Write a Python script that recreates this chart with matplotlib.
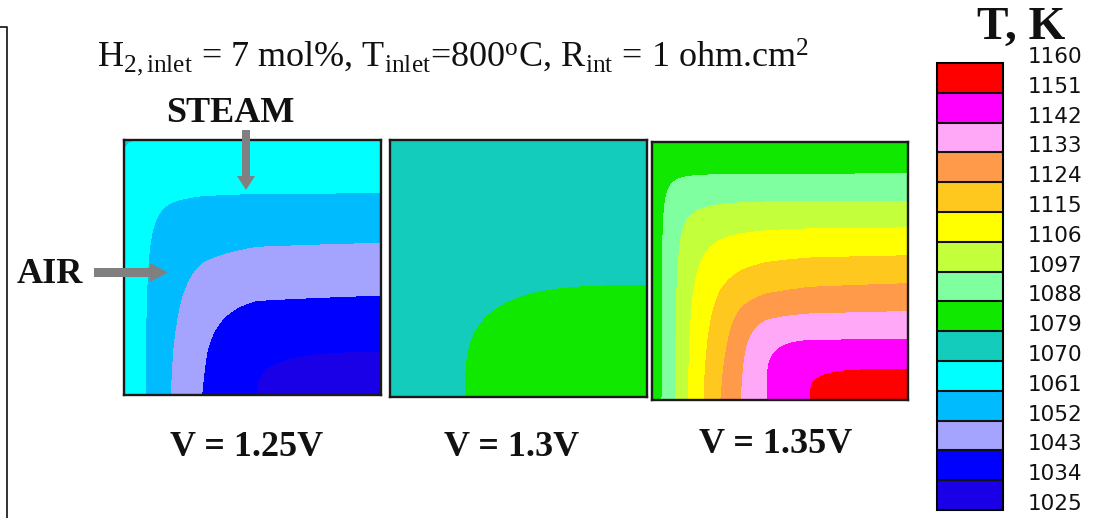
import numpy as np
import matplotlib
matplotlib.use("Agg")
import matplotlib.pyplot as plt
from matplotlib.colors import ListedColormap, BoundaryNorm
from matplotlib.patches import FancyArrow
from matplotlib.transforms import blended_transform_factory, ScaledTranslation

plt.rcParams['mathtext.fontset'] = 'custom'
plt.rcParams['mathtext.rm'] = 'Liberation Serif'
plt.rcParams['mathtext.it'] = 'Liberation Serif'

# temperature levels (K) and band colours, low -> high
levels = [1025, 1034, 1043, 1052, 1061, 1070, 1079, 1088, 1097, 1106, 1115, 1124, 1133, 1142, 1151, 1160]
band_colors = ['#1a00e6', '#0000ff', '#a4a4ff', '#00bcff', '#00ffff', '#14ccbc', '#10e800',
               '#80ffa0', '#c4ff3c', '#ffff00', '#ffc81e', '#ff9a4a', '#ffa8f8', '#ff00ff', '#ff0000']

t_inlet = 1073.0
voltages = ['V = 1.25V', 'V = 1.3V', 'V = 1.35V']

# temperature read along the right edge (pos = fraction from top, steam inlet side)
right_pos = [
    [0.0, 0.207, 0.401, 0.608, 0.83, 1.0],
    [0.0, 0.567, 1.0],
    [0.0, 0.124, 0.229, 0.333, 0.441, 0.549, 0.657, 0.767, 0.882, 1.0],
]
right_T = [
    [1069.8, 1061, 1052, 1043, 1034, 1029],
    [1075.5, 1079, 1082.5],
    [1080.2, 1088, 1097, 1106, 1115, 1124, 1133, 1142, 1151, 1158],
]
# temperature read along the bottom edge (pos = fraction from left, air inlet side)
bottom_pos = [
    [0.0, 0.082, 0.18, 0.302, 0.516, 1.0],
    [0.0, 0.294, 1.0],
    [0.0, 0.039, 0.092, 0.142, 0.203, 0.269, 0.348, 0.45, 0.619, 1.0],
]
bottom_T = [
    [1069.2, 1061, 1052, 1043, 1034, 1029],
    [1076, 1079, 1082.5],
    [1080.5, 1088, 1097, 1106, 1115, 1124, 1133, 1142, 1151, 1158],
]
# isotherm corner shape: soft near the inlet corner, boxy near the outlet corner
k_inlet = [2.0, 4.0, 2.5]
k_outlet = [3.0, 3.3, 4.0]
boxy_until = [0.5, 1.1, 0.5]

# panel rectangles in pixels (left, top, right, bottom)
panel_px = [(124, 140, 381, 395), (390, 140, 647, 397), (652, 142, 908, 400)]
label_xy = [(247, 456), (512, 456), (776, 453)]

W, H = 1095, 518
fig = plt.figure(figsize=(W / 100, H / 100), dpi=100)

cmap = ListedColormap(band_colors)
norm = BoundaryNorm(levels, cmap.N)

s = np.linspace(0, 1, 600)
for i in range(3):
    l, t, r, b = panel_px[i]
    ax = fig.add_axes([l / W, 1 - b / H, (r - l) / W, (b - t) / H])
    tc = right_T[i][-1]
    sgn = 1.0 if tc > t_inlet else -1.0
    tb = np.interp(s, bottom_pos[i], bottom_T[i])[None, :]
    tr = np.interp(s, right_pos[i], right_T[i])[:, None]

    # rise from the inlet temperature, combined softly (inlet side)
    P = (tb - t_inlet) / (tc - t_inlet)
    Q = (tr - t_inlet) / (tc - t_inlet)
    k1 = k_inlet[i]
    T1 = t_inlet + (tc - t_inlet) * (P ** -k1 + Q ** -k1 - 1) ** (-1 / k1)

    # distance from the outlet corner temperature, combined as a p-norm (outlet side)
    da = sgn * (tc - tb)
    db = sgn * (tc - tr)
    k2 = k_outlet[i]
    D = (da ** k2 + db ** k2) ** (1 / k2)
    T2 = tc - sgn * D

    rel = D / max(da.max(), db.max())
    w = np.clip((boxy_until[i] - rel) / 0.3, 0, 1)
    w = w * w * (3 - 2 * w)
    T = w * T2 + (1 - w) * T1
    T = np.clip(T, levels[0] + 0.01, levels[-1] - 0.01)

    cs = ax.contourf(s, s, T, levels=levels, cmap=cmap, norm=norm)
    ax.set_xlim(0, 1)
    ax.set_ylim(1, 0)
    ax.set_xticks([])
    ax.set_yticks([])
    for sp in ax.spines.values():
        sp.set_linewidth(1.7)
        sp.set_color('#1a1a1a')

# colour bar
cax = fig.add_axes([937 / W, 1 - 510 / H, 66 / W, 447 / H])
cb = fig.colorbar(cs, cax=cax, drawedges=True, ticks=[])
cax.minorticks_off()
cax.tick_params(which='both', length=0, labelright=False)
cb.outline.set_linewidth(1.5)
cb.dividers.set_linewidth(1.5)
cb.dividers.set_color('#111111')
trans = blended_transform_factory(cax.transAxes, cax.transData) + ScaledTranslation(0, 6 / 100, fig.dpi_scale_trans)
for lv in levels:
    cax.text(1.38, lv, str(lv), transform=trans, ha='left', va='center',
             fontsize=15.5, family='DejaVu Sans', color='#111111')

# overlay for annotations in pixel coordinates
ov = fig.add_axes([0, 0, 1, 1], zorder=10)
ov.set_xlim(0, W)
ov.set_ylim(H, 0)
ov.axis('off')
ov.patch.set_alpha(0)

ov.plot([0, 7, 7], [27, 27, H], color='#222222', lw=1.3)

ov.text(453, 67, r"H$_{\mathrm{2,inlet}}$ = 7 mol%, T$_{\mathrm{inlet}}$=800$^{\mathrm{o}}$C, R$_{\mathrm{int}}$ = 1 ohm.cm$^{\mathrm{2}}$",
        ha='center', va='baseline', fontsize=26, family='Liberation Serif', color='#111111')
ov.text(230, 122, 'STEAM', ha='center', va='baseline', fontsize=26, family='Liberation Serif',
        weight='bold', color='#111111')
ov.text(50, 283, 'AIR', ha='center', va='baseline', fontsize=26, family='Liberation Serif',
        weight='bold', color='#111111')
ov.text(1021, 39, 'T, K', ha='center', va='baseline', fontsize=34, family='Liberation Serif',
        weight='bold', color='#111111')
for (x, y), lab in zip(label_xy, voltages):
    ov.text(x, y, lab, ha='center', va='baseline', fontsize=26, family='Liberation Serif',
            weight='bold', color='#111111')

ov.add_patch(FancyArrow(246, 130, 0, 60, width=8, head_width=18, head_length=14,
                        length_includes_head=True, color='#808080', lw=0))
ov.add_patch(FancyArrow(94, 272.5, 74, 0, width=9, head_width=19, head_length=18,
                        length_includes_head=True, color='#808080', lw=0))

fig.savefig('out.png', dpi=100)
